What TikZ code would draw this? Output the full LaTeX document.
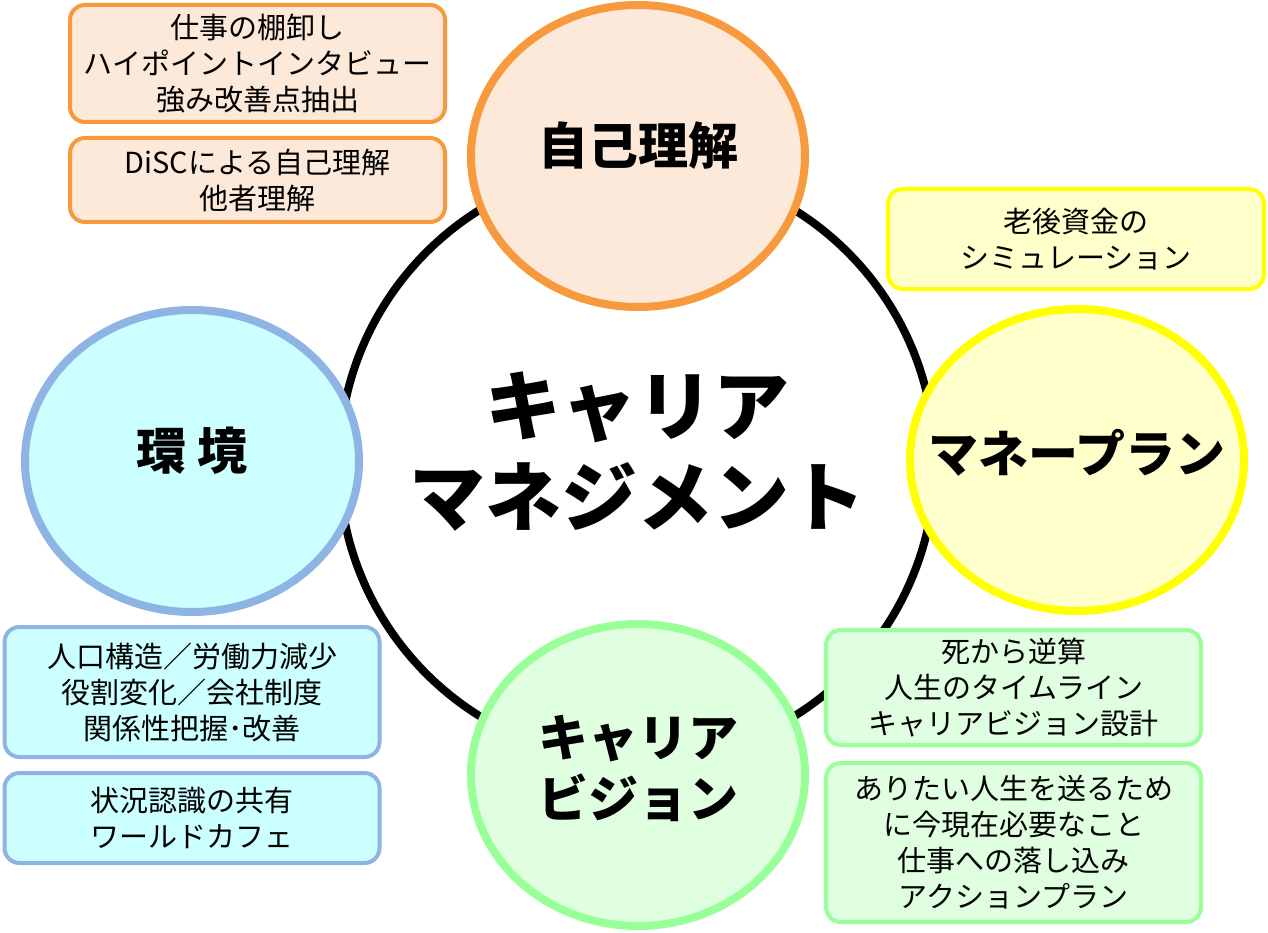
\documentclass[tikz,border=0pt]{standalone}
\usepackage{fontspec}
\setmainfont{Noto Sans CJK JP}
\usetikzlibrary{shapes.geometric,positioning}
\definecolor{selfline}{HTML}{F79A3E}
\definecolor{selffill}{HTML}{FDE9DA}
\definecolor{envline}{HTML}{8EB4E3}
\definecolor{envfill}{HTML}{CCFFFF}
\definecolor{moneyline}{HTML}{FFFF00}
\definecolor{moneyfill}{HTML}{FFFFCC}
\definecolor{visionline}{HTML}{99FF99}
\definecolor{visionfill}{HTML}{E0FFE0}

\begin{document}
\begin{tikzpicture}[
x=1pt,y=-1pt,
node distance=12pt,
theme/.style={ellipse,line width=8pt,minimum width=334pt,minimum height=302pt,inner sep=0pt},
themetext/.style={inner sep=0pt,align=center,font=\fontsize{50}{61}\selectfont\bfseries},
memo/.style={rounded corners=15pt,line width=4pt,minimum width=375pt,inner sep=0pt,align=center,font=\fontsize{29}{36}\selectfont},
selfcol/.style={draw=selfline,fill=selffill},
envcol/.style={draw=envline,fill=envfill},
moneycol/.style={draw=moneyline,fill=moneyfill},
visioncol/.style={draw=visionline,fill=visionfill}
]
\useasboundingbox (0,0) rectangle (1268,933);

% center ring
\node (ring) [circle,draw,line width=8pt,minimum size=596pt] at (637,463) {};
\node (title) [font=\fontsize{76}{91}\selectfont\bfseries,align=center] at (637,452) {キャリア\\マネジメント};

% four themes
\node (self) [theme,selfcol] at (638,156) {};
\node (env) [theme,envcol] at (192,461) {};
\node (money) [theme,moneycol] at (1077,460) {};
\node (vision) [theme,visioncol] at (638,775) {};
\node (selftext) [themetext] at (638,146) {自己理解};
\node (envtext) [themetext] at (192,451) {環 境};
\node (moneytext) [themetext] at (1077,453) {マネープラン};
\node (visiontext) [themetext] at (638,768) {キャリア\\ビジョン};

% notes
\node (selfa) [memo,selfcol,minimum height=117pt] at (257.5,63.5) {仕事の棚卸し\\ハイポイントインタビュー\\強み改善点抽出};
\node (selfb) [memo,selfcol,minimum height=84pt,below=of selfa] {DiSCによる自己理解\\他者理解};
\node (moneya) [memo,moneycol,minimum width=376pt,minimum height=100pt] at (1076,239) {老後資金の\\シミュレーション};
\node (enva) [memo,envcol,minimum height=130pt] at (192,692) {人口構造／労働力減少\\役割変化／会社制度\\関係性把握･改善};
\node (envb) [memo,envcol,minimum height=90pt,below=of enva] {状況認識の共有\\ワールドカフェ};
\node (visiona) [memo,visioncol,minimum height=115pt] at (1013.5,687.5) {死から逆算\\人生のタイムライン\\キャリアビジョン設計};
\node (visionb) [memo,visioncol,minimum height=159pt,below=14pt of visiona] {ありたい人生を送るため\\に今現在必要なこと\\仕事への落し込み\\アクションプラン};
\end{tikzpicture}
\end{document}
